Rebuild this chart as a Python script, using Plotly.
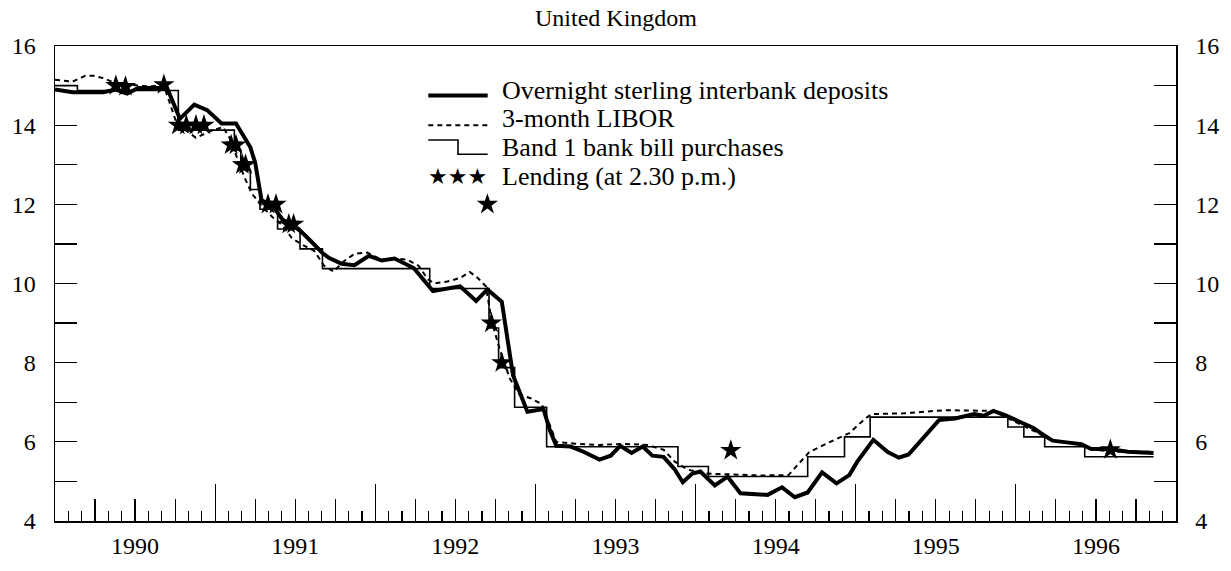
import plotly.graph_objects as go

# ---------------- data (x in decimal years) ----------------
overnight_x = [1990.00, 1990.11, 1990.30, 1990.38, 1990.45, 1990.52, 1990.70, 1990.78,
               1990.87, 1990.95, 1991.04, 1991.13, 1991.22, 1991.25, 1991.29, 1991.36,
               1991.42, 1991.52, 1991.60, 1991.67, 1991.71, 1991.79, 1991.87, 1991.96,
               1992.04, 1992.12, 1992.24, 1992.36, 1992.53, 1992.63, 1992.70, 1992.79,
               1992.86, 1992.89, 1992.95, 1993.05, 1993.09, 1993.13, 1993.22, 1993.30,
               1993.40, 1993.47, 1993.53, 1993.60, 1993.67, 1993.73, 1993.80, 1993.87,
               1993.92, 1993.98, 1994.03, 1994.12, 1994.20, 1994.28, 1994.45, 1994.54,
               1994.62, 1994.70, 1994.79, 1994.88, 1994.96, 1995.01, 1995.11, 1995.20,
               1995.27, 1995.33, 1995.42, 1995.52, 1995.62, 1995.74, 1995.80, 1995.86,
               1995.94, 1996.03, 1996.11, 1996.17, 1996.23, 1996.33, 1996.41, 1996.47,
               1996.58, 1996.70, 1996.86]
overnight_y = [14.90, 14.83, 14.83, 14.90, 14.80, 14.94, 14.94, 14.16,
               14.52, 14.38, 14.04, 14.04, 13.44, 13.05, 12.10, 11.96,
               11.62, 11.38, 11.06, 10.77, 10.65, 10.50, 10.46, 10.70,
               10.58, 10.63, 10.39, 9.81, 9.93, 9.56, 9.85, 9.54,
               7.68, 7.36, 6.76, 6.83, 6.30, 5.90, 5.88, 5.75,
               5.55, 5.65, 5.90, 5.72, 5.88, 5.65, 5.62, 5.30,
               4.98, 5.20, 5.25, 4.90, 5.12, 4.70, 4.66, 4.85,
               4.60, 4.72, 5.23, 4.95, 5.16, 5.50, 6.05, 5.74,
               5.60, 5.68, 6.10, 6.55, 6.59, 6.70, 6.66, 6.78,
               6.66, 6.51, 6.35, 6.18, 6.03, 5.98, 5.94, 5.82,
               5.82, 5.75, 5.72]

libor_x = [1990.00, 1990.11, 1990.19, 1990.24, 1990.31, 1990.38, 1990.58, 1990.68,
           1990.76, 1990.88, 1990.97, 1991.05, 1991.09, 1991.18, 1991.23, 1991.29,
           1991.36, 1991.42, 1991.48, 1991.54, 1991.62, 1991.68, 1991.74, 1991.80,
           1991.87, 1991.95, 1992.04, 1992.12, 1992.20, 1992.27, 1992.33, 1992.37,
           1992.45, 1992.53, 1992.59, 1992.64, 1992.69, 1992.73, 1992.78, 1992.84,
           1992.90, 1992.97, 1993.04, 1993.09, 1993.13, 1993.25, 1993.40, 1993.55,
           1993.70, 1993.80, 1993.87, 1993.95, 1994.05, 1994.20, 1994.40, 1994.58,
           1994.71, 1994.83, 1994.96, 1995.06, 1995.10, 1995.30, 1995.45, 1995.56,
           1995.86, 1995.95, 1996.05, 1996.15, 1996.25, 1996.35, 1996.42, 1996.50,
           1996.60, 1996.86]
libor_y = [15.15, 15.10, 15.25, 15.25, 15.18, 15.05, 14.98, 15.00,
           14.04, 13.68, 13.85, 13.95, 13.68, 12.71, 12.27, 11.96,
           11.67, 11.47, 11.14, 10.99, 10.82, 10.45, 10.30, 10.55,
           10.75, 10.78, 10.60, 10.63, 10.60, 10.45, 10.10, 10.00,
           10.05, 10.14, 10.29, 10.14, 9.93, 9.00, 8.30, 7.60,
           7.20, 7.10, 6.95, 6.40, 6.00, 5.95, 5.92, 5.95,
           5.92, 5.80, 5.50, 5.30, 5.20, 5.18, 5.15, 5.16,
           5.74, 5.98, 6.22, 6.59, 6.70, 6.72, 6.76, 6.80,
           6.78, 6.60, 6.40, 6.20, 6.00, 5.98, 5.90, 5.80,
           5.75, 5.75]

band1_x = [1990.00, 1990.14, 1990.77, 1991.12, 1991.16, 1991.22, 1991.28, 1991.39,
           1991.53, 1991.67, 1992.34, 1992.71, 1992.77, 1992.87, 1993.07, 1993.89,
           1994.08, 1994.70, 1994.93, 1995.09, 1995.95, 1996.05, 1996.18, 1996.43,
           1996.86]
band1_y = [15.000, 14.875, 13.875, 13.375, 12.875, 12.375, 11.875, 11.375,
           10.875, 10.375, 9.875, 8.875, 7.875, 6.875, 5.875, 5.375,
           5.125, 5.625, 6.125, 6.625, 6.375, 6.125, 5.875, 5.625,
           5.625]

lending_x = [1990.38, 1990.44, 1990.68, 1990.77, 1990.82, 1990.88, 1990.93,
             1991.10, 1991.13, 1991.17, 1991.19, 1991.33, 1991.38, 1991.46,
             1991.49, 1992.70, 1992.725, 1992.79, 1994.22, 1996.59]
lending_y = [15.00, 14.98, 15.02, 14.00, 14.00, 14.00, 14.00,
             13.50, 13.50, 13.00, 13.00, 12.00, 12.00, 11.50,
             11.50, 12.00, 9.00, 8.00, 5.78, 5.80]

year_labels = ["1990", "1991", "1992", "1993", "1994", "1995", "1996"]
y_ticks = list(range(4, 17))

legend_texts = ["Overnight sterling interbank deposits", "3-month LIBOR",
                "Band 1 bank bill purchases", "Lending (at 2.30 p.m.)"]
title_text = "United Kingdom"

# ---------------- figure ----------------
FONT = "Liberation Serif, Times New Roman, serif"
fig = go.Figure()

fig.add_trace(go.Scatter(x=band1_x, y=band1_y, mode="lines", line_shape="hv",
                         line=dict(color="black", width=1.6), showlegend=False))
fig.add_trace(go.Scatter(x=libor_x, y=libor_y, mode="lines",
                         line=dict(color="black", width=2, dash="5px,4px"), showlegend=False))
fig.add_trace(go.Scatter(x=overnight_x, y=overnight_y, mode="lines",
                         line=dict(color="black", width=4), showlegend=False))
fig.add_trace(go.Scatter(x=lending_x, y=lending_y, mode="markers",
                         marker=dict(symbol="star", size=16, color="black"), showlegend=False))

x0, x1 = 1990, 1997
quarter_vals = [x0 + q / 4 for q in range(1, 4 * (x1 - x0))]
quarter_text = []
for v in quarter_vals:
    frac = round((v - int(v)) * 4)
    quarter_text.append(year_labels[int(v) - x0] if frac == 2 else "")
year_vals = list(range(x0 + 1, x1))
y_text = [str(v) if v % 2 == 0 else "" for v in y_ticks]

fig.update_layout(
    width=1231, height=571,
    margin=dict(l=49, r=47, t=46, b=29),
    paper_bgcolor="white", plot_bgcolor="white",
    font=dict(family=FONT, size=24, color="black"),
    showlegend=False,
    xaxis=dict(range=[x0, x1], showgrid=False, zeroline=False,
               showline=True, linecolor="black", linewidth=1.5, mirror=True,
               tickmode="array", tickvals=quarter_vals, ticktext=quarter_text,
               ticks="inside", ticklen=22, tickwidth=1.2, tickcolor="black",
               minor=dict(tickmode="linear", tick0=x0, dtick=1 / 12, ticks="inside",
                          ticklen=10, tickwidth=1.2, tickcolor="black", showgrid=False),
               ticklabelstandoff=3, tickfont=dict(family=FONT, size=24)),
    xaxis2=dict(range=[x0, x1], overlaying="x", anchor="y", side="bottom",
                showgrid=False, zeroline=False, showline=False, showticklabels=False,
                tickmode="array", tickvals=year_vals, ticks="inside", ticklen=37,
                tickwidth=1.2, tickcolor="black"),
    yaxis=dict(range=[4, 16], showgrid=False, zeroline=False,
               showline=True, linecolor="black", linewidth=1.5,
               tickmode="array", tickvals=y_ticks, ticktext=y_text,
               ticks="inside", ticklen=22, tickwidth=1.2, tickcolor="black",
               ticklabelstandoff=13, tickfont=dict(family=FONT, size=24)),
    yaxis2=dict(range=[4, 16], overlaying="y", side="right", anchor="x",
                showgrid=False, zeroline=False,
                showline=True, linecolor="black", linewidth=1.5,
                tickmode="array", tickvals=y_ticks, ticktext=y_text,
                ticks="inside", ticklen=22, tickwidth=1.2, tickcolor="black",
                ticklabelstandoff=13, tickfont=dict(family=FONT, size=24)),
)
# invisible trace so xaxis2 / yaxis2 render
fig.add_trace(go.Scatter(x=[x0], y=[4], xaxis="x2", yaxis="y2", mode="markers",
                         marker=dict(opacity=0), hoverinfo="skip", showlegend=False))

# title
fig.add_annotation(text=title_text, xref="paper", yref="paper", x=0.5, y=1.0,
                   yanchor="bottom", xanchor="center", showarrow=False, yshift=13,
                   font=dict(family=FONT, size=24))

# custom legend
row_y = [0.907, 0.847, 0.786, 0.726]
for t, ry in zip(legend_texts, row_y):
    fig.add_annotation(text=t, xref="paper", yref="paper", x=0.397, y=ry,
                       xanchor="left", yanchor="middle", showarrow=False,
                       font=dict(family=FONT, size=26))
lx0, lxm, lx1 = 0.333, 0.3595, 0.386
fig.add_shape(type="line", xref="paper", yref="paper", x0=lx0, x1=lx1, y0=0.896, y1=0.896,
              line=dict(color="black", width=4))
fig.add_shape(type="line", xref="paper", yref="paper", x0=lx0, x1=lx1, y0=0.833, y1=0.833,
              line=dict(color="black", width=2, dash="5px,4px"))
fig.add_shape(type="path", xref="paper", yref="paper",
              path=f"M {lx0} 0.802 L {lxm} 0.802 L {lxm} 0.772 L {lx1} 0.772",
              line=dict(color="black", width=1.6))
fig.add_annotation(text="★★★", xref="paper", yref="paper", x=(lx0 + lx1) / 2, y=0.726,
                   xanchor="center", yanchor="middle", showarrow=False,
                   font=dict(family="DejaVu Sans", size=22))

fig.write_html("out.html",
               config={"displayModeBar": False, "staticPlot": True},
               post_script="document.body.style.margin='0px';"
                           "document.body.style.overflow='hidden';")
